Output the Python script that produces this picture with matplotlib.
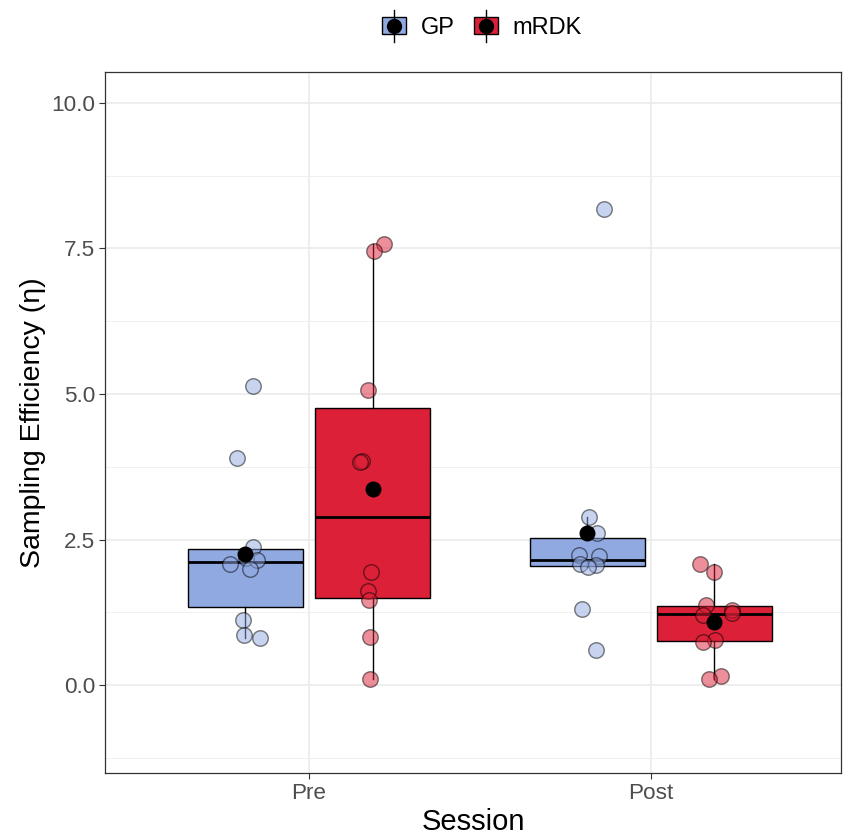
import matplotlib
matplotlib.use("Agg")
import matplotlib.pyplot as plt
import numpy as np
from matplotlib.legend_handler import HandlerBase
from matplotlib.patches import Rectangle
from matplotlib.lines import Line2D

plt.rcParams['font.family'] = ['Liberation Sans', 'DejaVu Sans']

# ---- data ----
sessions = ["Pre", "Post"]
groups = ["GP", "mRDK"]
group_colors = ["#91A9E1", "#DC2037"]

gp_pre = [5.14, 3.90, 2.38, 2.18, 2.14, 2.08, 1.99, 1.12, 0.86, 0.81]
gp_pre_jit = [0.023, -0.024, 0.023, 0.002, 0.035, -0.046, 0.013, -0.007, -0.004, 0.042]
mrdk_pre = [7.57, 7.45, 5.07, 3.85, 3.84, 1.94, 1.62, 1.46, 0.83, 0.10]
mrdk_pre_jit = [0.034, 0.004, -0.013, -0.030, -0.037, -0.005, -0.012, -0.010, -0.008, -0.007]
gp_post = [8.18, 2.88, 2.62, 2.23, 2.22, 2.08, 2.06, 2.03, 1.30, 0.60]
gp_post_jit = [0.048, 0.006, 0.028, -0.025, 0.033, -0.020, 0.026, 0.003, -0.015, 0.025]
mrdk_post = [2.08, 1.95, 1.37, 1.29, 1.23, 1.20, 0.78, 0.74, 0.16, 0.11]
mrdk_post_jit = [-0.042, -0.001, -0.025, 0.050, 0.050, -0.035, 0.001, -0.035, 0.018, -0.015]

values = {("Pre", "GP"): gp_pre, ("Pre", "mRDK"): mrdk_pre,
          ("Post", "GP"): gp_post, ("Post", "mRDK"): mrdk_post}
jitters = {("Pre", "GP"): gp_pre_jit, ("Pre", "mRDK"): mrdk_pre_jit,
           ("Post", "GP"): gp_post_jit, ("Post", "mRDK"): mrdk_post_jit}

yticks = [0.0, 2.5, 5.0, 7.5, 10.0]
yminor = [-1.25, 1.25, 3.75, 6.25, 8.75]

# ---- figure ----
fig = plt.figure(figsize=(8.43, 8.35), dpi=100)
ax = fig.add_axes([105/843, 1-773/835, (841-105)/843, (773-72)/835])

offset = 0.186
width = 0.335
for si, s in enumerate(sessions):
    for gi, g in enumerate(groups):
        pos = si + 1 + (gi - 0.5) * 2 * offset
        vals = values[(s, g)]
        col = group_colors[gi]
        ax.boxplot([vals], positions=[pos], widths=width, patch_artist=True,
                   showfliers=False, showcaps=False,
                   boxprops=dict(facecolor=col, edgecolor="black", linewidth=1.0),
                   medianprops=dict(color="black", linewidth=2.0),
                   whiskerprops=dict(color="black", linewidth=1.0),
                   zorder=2)
        xs = pos + np.array(jitters[(s, g)])
        ax.scatter(xs, vals, s=125, color=col, alpha=0.5, edgecolor="black",
                   linewidth=1.0, zorder=3)
        ax.scatter([pos], [np.mean(vals)], s=110, color="black", zorder=4)

ax.set_xlim(0.4035, 2.556)
ax.set_ylim(-1.51, 10.53)
ax.set_xticks([1, 2])
ax.set_xticklabels(sessions)
ax.set_yticks(yticks)
ax.set_yticklabels([f"{t:.1f}" for t in yticks])
ax.set_yticks(yminor, minor=True)
ax.tick_params(axis="both", which="major", labelsize=16.2, colors="#333333",
               labelcolor="#4D4D4D", length=4, width=0.8, pad=3)
ax.tick_params(axis="y", which="minor", length=0)
ax.grid(True, which="major", color="#EBEBEB", linewidth=1.2, zorder=0)
ax.grid(True, which="minor", axis="y", color="#F0F0F0", linewidth=0.7, zorder=0)
ax.set_axisbelow(True)
for sp in ax.spines.values():
    sp.set_color("#333333")
    sp.set_linewidth(0.9)

ax.set_xlabel("Session", fontsize=21, labelpad=3)
ax.set_ylabel("Sampling Efficiency (η)", fontsize=20.5, labelpad=4)


class BoxKeyHandler(HandlerBase):
    def __init__(self, color):
        super().__init__()
        self.color = color

    def create_artists(self, legend, orig_handle, xdescent, ydescent, width,
                       height, fontsize, trans):
        cx = -xdescent + width / 2
        cy = -ydescent + height / 2
        rect = Rectangle((-xdescent + 1, -ydescent + height * 0.1), width - 2,
                         height * 0.8, facecolor=self.color, edgecolor="black",
                         linewidth=1.0, transform=trans)
        vline = Line2D([cx, cx], [-ydescent - height * 0.25, -ydescent + height * 1.25],
                       color="black", linewidth=1.0, transform=trans)
        dot = Line2D([cx], [cy], marker="o", markersize=10, color="black",
                     linestyle="none", transform=trans)
        return [rect, vline, dot]


handles = [Rectangle((0, 0), 1, 1) for _ in groups]
handler_map = {h: BoxKeyHandler(c) for h, c in zip(handles, group_colors)}
fig.legend(handles, groups, handler_map=handler_map, loc="center",
           bbox_to_anchor=(481/843, 1-27/835), ncol=2, frameon=False,
           fontsize=17, handlelength=1.15, handleheight=1.0, columnspacing=0.75,
           handletextpad=0.55)

fig.savefig("out.png", dpi=100)
